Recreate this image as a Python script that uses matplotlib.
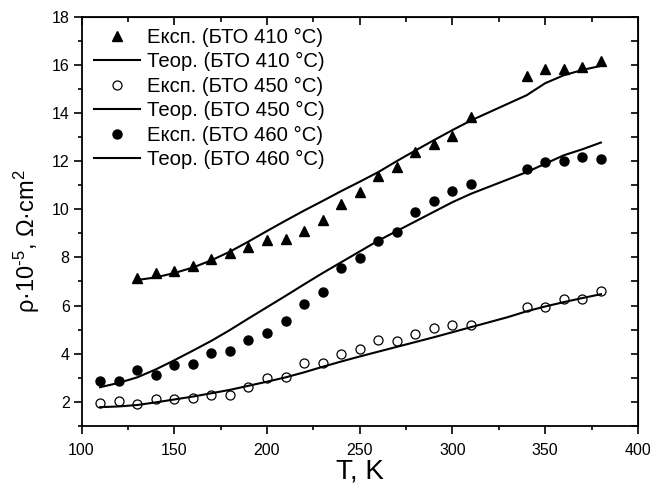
import matplotlib
matplotlib.use("Agg")
import matplotlib.pyplot as plt
from matplotlib.ticker import MultipleLocator

plt.rcParams['font.family'] = ['Liberation Sans', 'DejaVu Sans']
plt.rcParams['mathtext.fontset'] = 'custom'
plt.rcParams['mathtext.rm'] = 'Liberation Sans'
plt.rcParams['mathtext.it'] = 'Liberation Sans:italic'

# ---- data ----
T_exp = [110, 120, 130, 140, 150, 160, 170, 180, 190, 200, 210, 220, 230, 240,
         250, 260, 270, 280, 290, 300, 310, 340, 350, 360, 370, 380]
T_exp_410 = T_exp[2:]
exp_410 = [7.15, 7.34, 7.45, 7.66, 7.92, 8.17, 8.45, 8.73, 8.76, 9.09, 9.57, 10.24,
           10.72, 11.39, 11.78, 12.39, 12.71, 13.04, 13.83, 15.55, 15.83, 15.86, 15.91, 16.19]
exp_450 = [1.93, 2.03, 1.89, 2.10, 2.10, 2.17, 2.28, 2.28, 2.60, 2.97, 3.01, 3.60, 3.60,
           3.98, 4.18, 4.55, 4.52, 4.83, 5.05, 5.18, 5.18, 5.94, 5.95, 6.27, 6.28, 6.61]
exp_460 = [2.87, 2.86, 3.32, 3.12, 3.51, 3.57, 4.04, 4.11, 4.57, 4.87, 5.36, 6.06, 6.58,
           7.58, 7.98, 8.69, 9.06, 9.91, 10.34, 10.77, 11.06, 11.67, 11.97, 12.03, 12.18, 12.09]

T_th = [110, 120, 130, 140, 150, 160, 170, 180, 190, 200, 210, 220, 230, 240, 250,
        260, 270, 280, 290, 300, 310, 320, 330, 340, 350, 360, 370, 380]
T_th_410 = T_th[2:]
th_410 = [7.06, 7.17, 7.35, 7.58, 7.88, 8.24, 8.66, 9.10, 9.53, 9.95, 10.35, 10.76,
          11.15, 11.55, 12.01, 12.45, 12.88, 13.30, 13.70, 14.05, 14.40, 14.75, 15.25,
          15.58, 15.80, 15.97]
th_450 = [1.77, 1.80, 1.86, 1.97, 2.09, 2.21, 2.35, 2.49, 2.66, 2.83, 3.01, 3.22, 3.45,
          3.67, 3.88, 4.08, 4.28, 4.48, 4.68, 4.89, 5.10, 5.31, 5.52, 5.76, 5.96, 6.14,
          6.31, 6.47]
th_460 = [2.60, 2.78, 3.01, 3.34, 3.72, 4.12, 4.53, 4.98, 5.46, 5.93, 6.40, 6.88, 7.35,
          7.80, 8.25, 8.70, 9.10, 9.50, 9.90, 10.30, 10.65, 10.95, 11.25, 11.55, 11.90,
          12.25, 12.50, 12.78]

labels = ['Експ. (БТО 410 °C)', 'Теор. (БТО 410 °C)',
          'Експ. (БТО 450 °C)', 'Теор. (БТО 450 °C)',
          'Експ. (БТО 460 °C)', 'Теор. (БТО 460 °C)']

fig = plt.figure(figsize=(6.5, 4.94), dpi=100)
ax = fig.add_axes([0.1254, 0.1383, 0.8561, 0.8271])

lw = 1.5
ax.plot(T_exp_410, exp_410, linestyle='none', marker='^', ms=7.5, color='black',
        label=labels[0])
ax.plot(T_th_410, th_410, color='black', lw=lw, label=labels[1])
ax.plot(T_exp, exp_450, linestyle='none', marker='o', ms=6.5, mfc='white',
        mec='black', mew=0.9, label=labels[2])
ax.plot(T_th, th_450, color='black', lw=lw, label=labels[3])
ax.plot(T_exp, exp_460, linestyle='none', marker='o', ms=6.5, color='black',
        label=labels[4])
ax.plot(T_th, th_460, color='black', lw=lw, label=labels[5])

ax.set_xlim(100, 400)
ax.set_ylim(1, 18)
ax.xaxis.set_major_locator(MultipleLocator(50))
ax.xaxis.set_minor_locator(MultipleLocator(25))
ax.yaxis.set_major_locator(MultipleLocator(2))
ax.yaxis.set_minor_locator(MultipleLocator(1))

for s in ax.spines.values():
    s.set_linewidth(1.3)

ax.tick_params(which='both', direction='out', width=1.2, labelsize=11.5,
               top=False, right=False)
ax.tick_params(which='major', length=5.5)
ax.tick_params(which='minor', length=3)
ax.tick_params(axis='x', which='major', pad=7)
ax.tick_params(axis='y', which='major', pad=3)

# mirrored inward ticks on top and right
axt = ax.secondary_xaxis('top')
axt.xaxis.set_major_locator(MultipleLocator(50))
axt.xaxis.set_minor_locator(MultipleLocator(25))
axt.tick_params(which='both', direction='in', width=1.2, labeltop=False)
axt.tick_params(which='major', length=6)
axt.tick_params(which='minor', length=3.5)
axr = ax.secondary_yaxis('right')
axr.yaxis.set_major_locator(MultipleLocator(2))
axr.yaxis.set_minor_locator(MultipleLocator(1))
axr.tick_params(which='both', direction='in', width=1.2, labelright=False)
axr.tick_params(which='major', length=5)
axr.tick_params(which='minor', length=5)

ax.set_xlabel('T, K', fontsize=20, labelpad=0)
ax.set_ylabel('ρ·10$^{\u20105}$, Ω·cm$^2$', fontsize=17)
ax.yaxis.set_label_coords(-0.071, 0.451)

leg = ax.legend(loc='upper left', bbox_to_anchor=(0.022, 0.974), frameon=False,
                fontsize=14.6, handlelength=2.3, handletextpad=0.33,
                labelspacing=0.27, borderpad=0, borderaxespad=0)

fig.savefig('out.png', dpi=100)
